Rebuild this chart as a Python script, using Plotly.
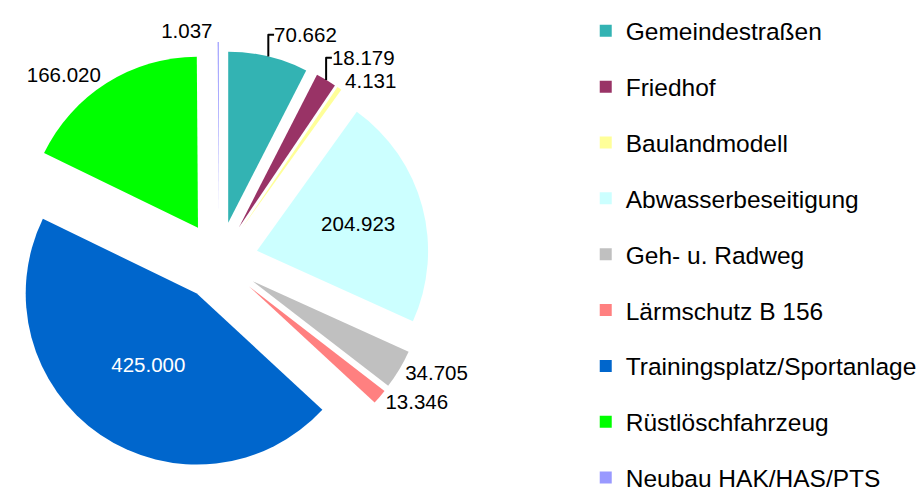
import plotly.graph_objects as go

categories = ["Gemeindestraßen", "Friedhof", "Baulandmodell", "Abwasserbeseitigung",
              "Geh- u. Radweg", "Lärmschutz B 156", "Trainingsplatz/Sportanlage",
              "Rüstlöschfahrzeug", "Neubau HAK/HAS/PTS"]
values = [70.662, 18.179, 4.131, 204.923, 34.705, 13.346, 425.000, 166.020, 1.037]
value_labels = ["70.662", "18.179", "4.131", "204.923", "34.705", "13.346",
                "425.000", "166.020", "1.037"]
colors = ["#33B3B3", "#993366", "#FFFF99", "#CCFFFF", "#C0C0C0", "#FF8080",
          "#0066CC", "#00FF00", "#9999FF"]
text_pos = ["outside", "outside", "outside", "inside", "outside", "outside",
            "inside", "outside", "outside"]
text_colors = ["black", "black", "black", "black", "black", "black",
               "white", "black", "black"]
pulls = [0.23, 0.23, 0.23, 0.23, 0.23, 0.23, 0.23, 0.23, 0.28]

FONT = "Liberation Sans, Arial, sans-serif"

fig = go.Figure()
fig.add_trace(go.Pie(
    labels=categories, values=values, text=value_labels, textinfo="text",
    textposition=text_pos, insidetextorientation="horizontal",
    textfont=dict(family=FONT, size=20.5, color=text_colors),
    marker=dict(colors=colors, line=dict(width=0)),
    pull=pulls, sort=False, direction="clockwise", rotation=0,
    domain=dict(x=[0, 0.4745], y=[0.0223, 0.9189]),
    showlegend=False, hoverinfo="label+value",
))

for i, (name, col) in enumerate(zip(categories, colors)):
    fig.add_trace(go.Scatter(
        x=[None], y=[None], mode="markers", name=name,
        marker=dict(symbol="square", size=12, color=col),
        legendgroup=f"g{i}", showlegend=True,
    ))

fig.update_layout(
    width=923, height=493,
    margin=dict(l=0, r=0, t=0, b=0, autoexpand=False),
    paper_bgcolor="white", plot_bgcolor="white",
    xaxis=dict(visible=False, domain=[0.99, 1]),
    yaxis=dict(visible=False),
    legend=dict(
        x=0.6346, xanchor="left", y=0.983, yanchor="top",
        font=dict(family=FONT, size=24.5, color="black"),
        tracegroupgap=21, bgcolor="rgba(0,0,0,0)", maxheight=600,
    ),
    font=dict(family=FONT),
)

fig.write_html("out.html", post_script="document.body.style.margin='0';",
               config={"displayModeBar": False})
